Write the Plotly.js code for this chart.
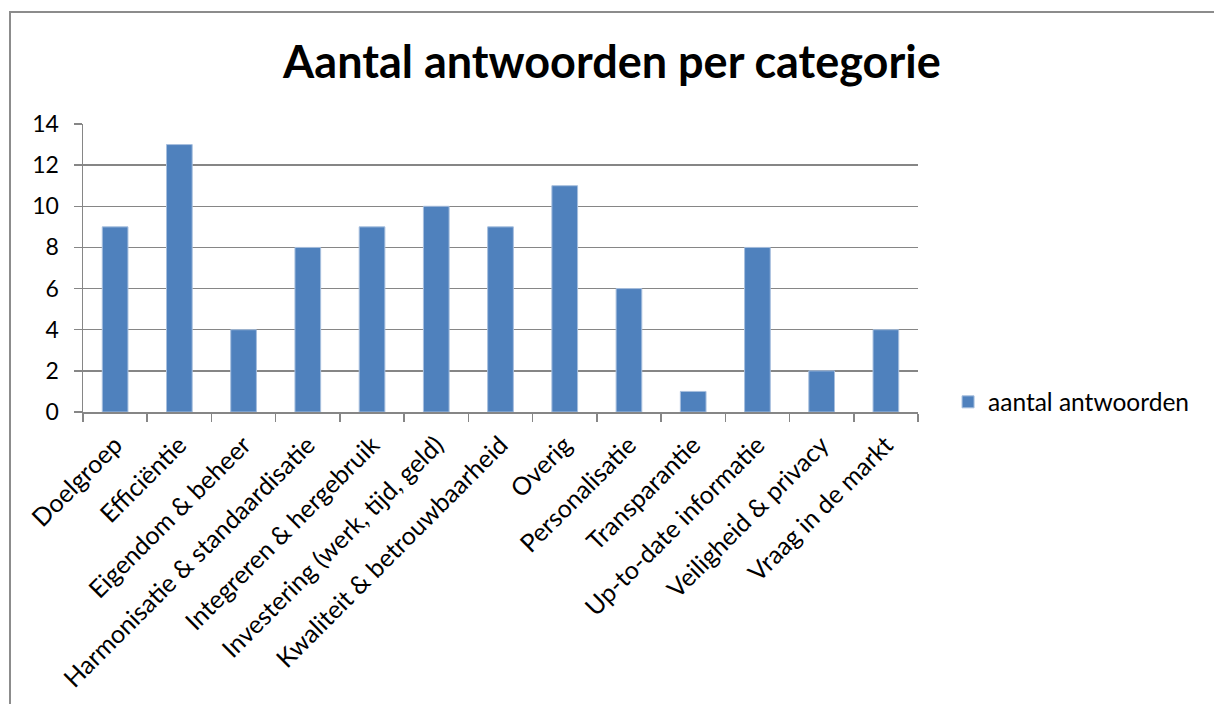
<!DOCTYPE html>
<html>
<head>
<meta charset="utf-8">
<script src="https://cdn.plot.ly/plotly-3.0.1.min.js"></script>
<style>
html,body{margin:0;padding:0;background:#fff;overflow:hidden;width:1214px;height:704px;}
#frame{position:absolute;left:9px;top:11px;width:1300px;height:800px;border:2px solid #8c8c8c;box-sizing:border-box;}
#chart{position:absolute;left:0;top:0;width:1214px;height:704px;}
</style>
</head>
<body>
<div id="frame"></div>
<div id="chart"></div>
<script>
const categories = ["Doelgroep","Efficiëntie","Eigendom & beheer","Harmonisatie & standaardisatie","Integreren & hergebruik","Investering (werk, tijd, geld)","Kwaliteit & betrouwbaarheid","Overig","Personalisatie","Transparantie","Up-to-date informatie","Veiligheid & privacy","Vraag in de markt"];
const values = [9,13,4,8,9,10,9,11,6,1,8,2,4];
const seriesName = "aantal antwoorden";
const chartTitle = "Aantal antwoorden per categorie";
const yTicks = [0,2,4,6,8,10,12,14];

const font = "Lato, 'Open Sans', sans-serif";
const data = [{
  type: "bar",
  x: categories,
  y: values,
  name: seriesName,
  marker: {color: "#4F81BD", line: {color: "#A7BFDE", width: 1}},
  showlegend: true
}];
const layout = {
  width: 1214, height: 704,
  paper_bgcolor: "rgba(0,0,0,0)",
  plot_bgcolor: "rgba(0,0,0,0)",
  margin: {l: 83, r: 296, t: 124, b: 292, pad: 0},
  bargap: 0.6,
  font: {family: font, color: "#000", size: 23},
  title: {text: "<b>" + chartTitle + "</b>", x: 0.504, xanchor: "center", y: 0.912, yanchor: "middle", font: {family: font, size: 45, color: "#000"}},
  xaxis: {
    type: "category",
    tickangle: -45,
    tickson: "boundaries",
    ticks: "outside", ticklen: 8, tickcolor: "#868686", tickwidth: 1.5,
    showline: true, linecolor: "#868686", linewidth: 1.5,
    showgrid: false, zeroline: false,
    ticklabelstandoff: 7,
    tickfont: {family: font, size: 25, color: "#000"}
  },
  yaxis: {
    range: [0, 14], tickvals: yTicks, ticktext: yTicks.map(String),
    ticks: "outside", ticklen: 8, tickcolor: "#868686", tickwidth: 1.5,
    showline: true, linecolor: "#868686", linewidth: 1.5,
    showgrid: true, gridcolor: "#868686", gridwidth: 1.5,
    zeroline: false,
    ticklabelstandoff: 10,
    tickfont: {family: font, size: 23, color: "#000"}
  },
  legend: {x: 1.036, y: 0.035, xanchor: "left", yanchor: "middle", font: {family: font, size: 24.5, color: "#000"}, itemwidth: 30, bgcolor: "rgba(0,0,0,0)"}
};
Plotly.newPlot("chart", data, layout, {displayModeBar: false, staticPlot: true});
</script>
</body>
</html>
